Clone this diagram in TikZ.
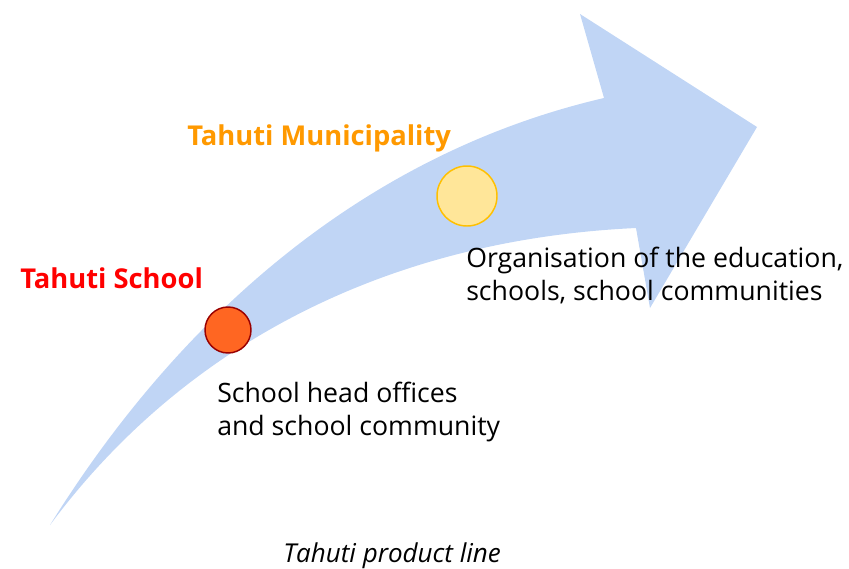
\documentclass[tikz,border=0pt]{standalone}
\usepackage{fontspec}
\setmainfont{Open Sans}
\definecolor{arrowblue}{HTML}{C0D5F5}
\definecolor{muniorange}{HTML}{FF9900}
\definecolor{schoolred}{HTML}{FF0000}
\definecolor{dotred}{HTML}{FF6622}
\definecolor{dotredline}{HTML}{990000}
\definecolor{dotyellow}{HTML}{FFE699}
\definecolor{dotyellowline}{HTML}{FFC000}
\tikzset{
  level/.style={anchor=base west, font=\fontsize{20.5}{20.5}\selectfont\bfseries, inner sep=0pt},
  desc/.style={anchor=base west, align=left, font=\fontsize{20}{24.5}\selectfont, inner sep=0pt},
  dot/.style={circle, inner sep=0pt, line width=1.1pt}
}
\begin{document}
\begin{tikzpicture}[x=0.75pt, y=-0.75pt, line join=round, line cap=round]
	\useasboundingbox (0,0) rectangle (849,568);
	
	% curved arrow
	\fill[arrowblue] (50,525) .. controls (190,300) and (380,150) .. (604,98)
		-- (580,14) -- (757,127) -- (650,308) -- (636,228)
		.. controls (380,240) and (180,350) .. (50,525) -- cycle;
	
	% dots on the arrow
	\node[dot, draw=dotredline, fill=dotred, minimum size=34.5pt] (school) at (228,330) {};
	\node[dot, draw=dotyellowline, fill=dotyellow, minimum size=45pt] (muni) at (467,196) {};
	
	% labels (base = last line)
	\node[level, text=schoolred] (schoolname) at (20,288) {Tahuti School};
	\node[level, text=muniorange] (muniname) at (187,145) {Tahuti Municipality};
	\node[desc] (schooltext) at (217,435) {School head offices\\and school community};
	\node[desc] (munitext) at (466,300) {Organisation of the education,\\schools, school communities};
	\node[anchor=base west, inner sep=0pt, font=\fontsize{19.5}{19.5}\selectfont\itshape] (caption) at (283,562) {Tahuti product line};
\end{tikzpicture}
\end{document}
